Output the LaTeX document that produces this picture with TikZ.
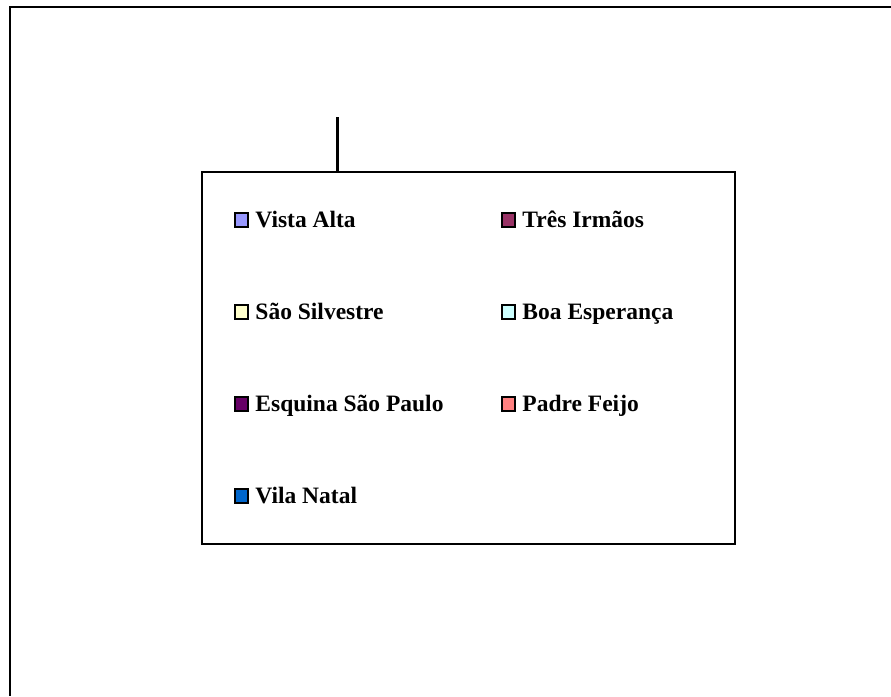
\documentclass[tikz,border=0pt]{standalone}
\usepackage{fontspec}
\setmainfont{Liberation Serif}
\usetikzlibrary{positioning}
\definecolor{vistaalta}{HTML}{9999FF}
\definecolor{tresirmaos}{HTML}{993366}
\definecolor{saosilvestre}{HTML}{FFFFCC}
\definecolor{boaesperanca}{HTML}{CCFFFF}
\definecolor{esquinasp}{HTML}{660066}
\definecolor{padrefeijo}{HTML}{FF8080}
\definecolor{vilanatal}{HTML}{0066CC}
\tikzset{
  keybox/.style={draw, line width=2pt, minimum size=13.5pt, inner sep=0pt, fill=#1},
  keytext/.style={inner sep=0pt, text height=15pt, text depth=0pt,
    font=\bfseries\fontsize{23.5}{28}\selectfont}
}
\begin{document}
\begin{tikzpicture}[x=1pt,y=-1pt]
        \useasboundingbox (0,0) rectangle (891,696);
        % Chart frame (top and left edges only)
        \draw[line width=2.2pt] (891,7) -- (10,7) -- (10,696);

        % Legend box
        \node[draw, line width=1.8pt, minimum width=533pt, minimum height=372pt] (legend) at (468.5,358) {};
        \coordinate (tick) at (337,117);
        \draw[line width=3pt] (tick) -- (tick |- legend.north);

        % Left column
        \node[keybox=vistaalta] (k1) at (241.5,220) {};
        \node[keytext, right=6pt of k1] (t1) {Vista Alta};
        \node[keybox=saosilvestre] (k2) at (241.5,312) {};
        \node[keytext, right=6pt of k2] (t2) {São Silvestre};
        \node[keybox=esquinasp] (k3) at (241.5,404) {};
        \node[keytext, right=6pt of k3] (t3) {Esquina São Paulo};
        \node[keybox=vilanatal] (k4) at (241.5,496) {};
        \node[keytext, right=6pt of k4] (t4) {Vila Natal};

        % Right column
        \node[keybox=tresirmaos] (k5) at (508.5,220) {};
        \node[keytext, right=6pt of k5] (t5) {Três Irmãos};
        \node[keybox=boaesperanca] (k6) at (508.5,312) {};
        \node[keytext, right=6pt of k6] (t6) {Boa Esperança};
        \node[keybox=padrefeijo] (k7) at (508.5,404) {};
        \node[keytext, right=6pt of k7] (t7) {Padre Feijo};
    \end{tikzpicture}
\end{document}
